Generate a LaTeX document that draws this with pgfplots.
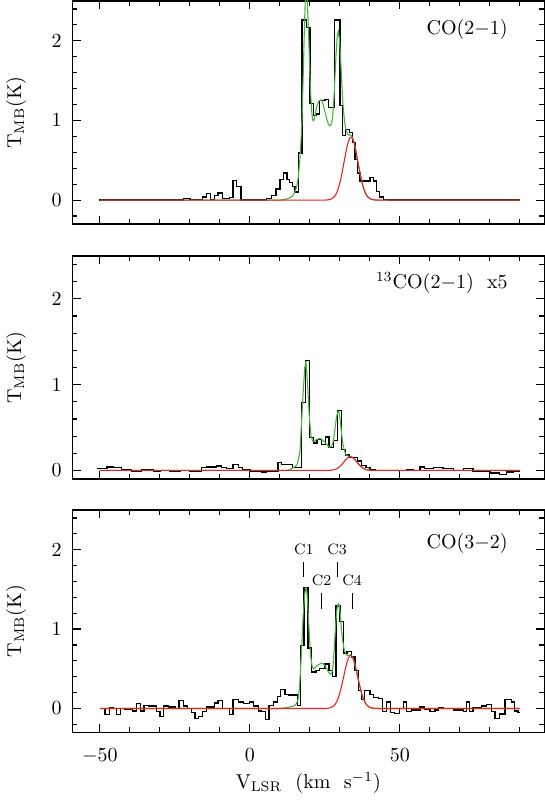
\documentclass[border=0pt]{standalone}
\usepackage{pgfplots}
\pgfplotsset{compat=1.18}
\definecolor{fitgreen}{RGB}{70,180,60}
\definecolor{fitred}{RGB}{235,35,35}
\pgfplotsset{
 spec/.style={
  scale only axis, width=236.1pt, height=111.5pt,
  xmin=-59.2, xmax=98.2,
  xtick={-50,0,50}, minor xtick={-40,-30,-20,-10,10,20,30,40,60,70,80,90},
  ytick={0,1,2}, minor ytick={-0.2,0.2,0.4,0.6,0.8,1.2,1.4,1.6,1.8,2.2,2.4},
  tick align=inside, tick pos=both,
  major tick length=4.2pt, minor tick length=2.5pt,
  every tick/.style={black, line width=0.6pt},
  axis line style={line width=0.8pt},
  yticklabel style={xshift=-1.8pt},
  ylabel={$\mathrm{T_{MB}(K)}$},
  ylabel style={at={(axis description cs:-0.1192,0.5)}, anchor=center},
 },
 hist/.style={black, line width=0.65pt, const plot, no marks},
 gfit/.style={fitgreen, line width=0.55pt, no marks, line join=round},
 rfit/.style={fitred, line width=0.55pt, no marks, line join=round},
}
\begin{document}
\begin{tikzpicture}
% ---------------- top: CO(2-1)
\begin{axis}[spec, at={(36.15pt,-0.5pt)}, anchor=north west,
  ymin=-0.3, ymax=2.5, xticklabels={}]
\addplot[hist] coordinates {(-50.2,0) (-22.2,0.02) (-20.0,0.01) (-15.8,0.04) (-14.4,0.08) (-13.1,0.01) (-11.9,0.06) (-10.6,0.09) (-9.1,0.02) (-6.9,0.03) (-5.6,0.25) (-4.4,0.17) (-3.0,0) (5.6,0.02) (7.2,0.06) (8.7,0.14) (10.0,0.26) (11.1,0.34) (12.4,0.26) (13.3,0.22) (14.2,0.17) (15.0,0.10) (16.1,0.59) (17.4,2.26) (18.9,2.17) (20.0,1.21) (21.1,1.06) (22.0,1.08) (23.3,1.25) (25.0,1.26) (26.1,1.16) (28.3,2.26) (30.0,1.19) (30.9,0.81) (31.9,0.89) (33.3,0.85) (34.2,0.72) (35.0,0.51) (35.8,0.34) (36.7,0.24) (40.0,0.28) (41.1,0.24) (42.2,0.11) (43.3,0.04) (44.6,0.01) (45.9,0) (90,0)};
\addplot[gfit] coordinates {(-50,0) (10,0) (12,0.01) (13.3,0.03) (14.2,0.05) (15.0,0.10) (15.6,0.17) (16.1,0.28) (16.6,0.48) (17.0,0.72) (17.4,1.05) (17.8,1.6) (18.1,2.05) (18.4,2.45) (18.7,2.65) (19.0,2.6) (19.3,2.35) (19.6,2.05) (19.9,1.7) (20.2,1.38) (20.5,1.16) (20.8,1.04) (21.1,0.99) (21.5,1.02) (22.0,1.12) (22.5,1.2) (23.1,1.25) (23.7,1.26) (24.2,1.23) (24.9,1.13) (25.6,1.02) (26.2,0.95) (26.7,0.93) (27.2,0.96) (27.6,1.05) (28.0,1.27) (28.3,1.5) (28.7,1.82) (29.1,2.05) (29.5,2.13) (29.9,2.0) (30.2,1.8) (30.6,1.5) (30.9,1.27) (31.3,1.08) (31.7,0.95) (32.2,0.86) (32.8,0.82) (33.3,0.82) (33.8,0.81) (34.4,0.77) (34.9,0.70) (35.4,0.61) (35.9,0.50) (36.4,0.40) (36.9,0.30) (37.4,0.22) (37.9,0.15) (38.4,0.10) (38.9,0.06) (39.4,0.037) (40.4,0.011) (41.4,0.003) (42.5,0) (90,0)};
\addplot[rfit] coordinates {(-50,0) (25,0) (26,0.003) (27,0.011) (28,0.037) (28.5,0.061) (29,0.098) (29.5,0.149) (30,0.217) (30.5,0.300) (31,0.397) (31.5,0.500) (32,0.601) (32.5,0.690) (33,0.754) (33.4,0.783) (33.7,0.79) (34.0,0.783) (34.4,0.754) (34.9,0.690) (35.4,0.601) (35.9,0.500) (36.4,0.397) (36.9,0.300) (37.4,0.217) (37.9,0.149) (38.4,0.098) (38.9,0.061) (39.4,0.037) (40.4,0.011) (41.4,0.003) (42.5,0) (90,0)};
\node[anchor=base east] at (axis cs:88.3,2.08) {CO(2$-$1)};
\end{axis}
% ---------------- middle: 13CO(2-1) x5
\begin{axis}[spec, at={(36.15pt,-128pt)}, anchor=north west,
  ymin=-0.1, ymax=2.5, xticklabels={}]
\addplot[hist] coordinates {(-50.9,0.02) (-47.6,0.04) (-45.5,0.03) (-42.8,0.01) (-39.4,-0.01) (-36.1,0.01) (-32.2,-0.01) (-30.0,0) (-26.7,-0.01) (-23.3,0) (-20.0,-0.01) (-16.1,0.03) (-14.4,0.04) (-11.1,0.05) (-9.4,0.03) (-7.8,0.02) (-5.6,0.07) (-3.9,0.03) (-2.4,0.01) (0,-0.01) (3.9,-0.02) (5.6,-0.01) (9.4,0.09) (10.6,0.07) (12.2,0.07) (14.1,0.03) (15.8,0.03) (17.2,0.79) (18.5,1.28) (19.8,0.38) (21.1,0.32) (22.4,0.36) (23.9,0.30) (25.2,0.39) (26.4,0.27) (27.8,0.35) (29.2,0.70) (30.6,0.24) (31.8,0.18) (33.1,0.15) (35.9,0.11) (37.2,0.06) (38.7,0.03) (40.0,0.01) (41.7,0) (48.3,0) (52.2,0.01) (54.4,0) (56.7,0.04) (58.3,0.02) (61.1,0.03) (64.4,0.02) (67.8,0) (71.1,0.02) (74.4,-0.01) (80.0,-0.03) (83.3,-0.05) (85.6,-0.02) (87.8,-0.01) (90.0,-0.01)};
\addplot[gfit] coordinates {(-50,0) (12,0) (13,0.005) (14.4,0.03) (15.6,0.06) (16.2,0.13) (16.7,0.23) (17.2,0.55) (17.8,0.94) (18.3,1.2) (18.7,1.27) (19.2,1.02) (19.5,0.82) (19.8,0.63) (20.3,0.42) (20.9,0.34) (21.5,0.34) (22.2,0.36) (23.0,0.37) (23.6,0.37) (24.3,0.35) (25.0,0.33) (25.7,0.30) (26.4,0.27) (27.2,0.28) (27.7,0.33) (28.1,0.41) (28.5,0.52) (28.9,0.63) (29.3,0.68) (29.6,0.69) (29.9,0.64) (30.2,0.55) (30.6,0.42) (30.9,0.33) (31.3,0.26) (31.7,0.21) (32.2,0.18) (32.8,0.165) (33.5,0.162) (34,0.157) (35,0.128) (36,0.085) (37,0.046) (38,0.02) (39,0.007) (40,0.002) (41,0) (90,0)};
\addplot[rfit] coordinates {(-50,0) (26,0) (27,0.002) (28,0.007) (29,0.020) (30,0.045) (31,0.084) (32,0.127) (33,0.156) (33.5,0.16) (34,0.156) (35,0.127) (36,0.084) (37,0.045) (38,0.020) (39,0.007) (40,0.002) (41,0) (90,0)};
\node[anchor=base east] at (axis cs:88.3,2.12) {$^{13}$CO(2$-$1)~~x5};
\end{axis}
% ---------------- bottom: CO(3-2)
\begin{axis}[spec, at={(36.15pt,-255pt)}, anchor=north west,
  height=111.15pt, ymin=-0.3, ymax=2.5,
  xticklabel style={yshift=-4.5pt},
  xlabel={$\mathrm{V_{LSR}}$~~(km~~s$^{-1}$)},
  xlabel style={at={(axis description cs:0.5,-0.2519)}, anchor=base}]
\addplot[hist] coordinates {(-49.1,0) (-48.3,-0.08) (-46.9,0.01) (-45.6,0) (-44.4,-0.08) (-43.1,0) (-41.7,-0.01) (-39.1,-0.03) (-37.8,0.06) (-36.4,-0.03) (-35.3,0.04) (-33.9,0.03) (-31.1,-0.04) (-30.0,-0.1) (-28.7,0.03) (-27.2,0.02) (-25.0,0) (-23.6,0.1) (-22.2,0.03) (-20.9,0) (-19.4,-0.05) (-18.3,-0.13) (-17.2,-0.1) (-15.8,-0.04) (-14.4,0.02) (-11.7,0.07) (-10.6,0.1) (-9.1,0) (-6.7,-0.08) (-5.6,0.11) (-3.9,0.08) (-2.2,0.06) (-0.2,0.08) (1.1,0.03) (2.8,-0.03) (3.9,-0.04) (5.3,-0.14) (6.4,0.04) (7.8,0.08) (9.1,0.15) (10.2,0.24) (11.7,0.18) (12.8,0.17) (15.8,0.04) (16.9,0.79) (18.0,1.52) (19.4,0.76) (20.6,0.46) (22.0,0.48) (23.3,0.50) (25.0,0.56) (26.4,0.48) (27.6,0.40) (28.7,1.29) (30.0,1.1) (31.1,0.70) (32.4,0.72) (33.9,0.65) (35.0,0.48) (36.1,0.23) (37.2,0.11) (38.3,0.23) (40.0,0.18) (41.3,0.14) (42.8,0.13) (44.2,-0.04) (45.6,0.08) (46.9,-0.05) (48.3,-0.06) (49.8,0) (51.1,0.08) (52.2,-0.04) (53.9,-0.02) (56.7,0.02) (58.3,-0.01) (60.0,-0.04) (61.7,-0.02) (62.8,0.01) (64.4,0) (67.8,-0.02) (71.1,-0.04) (72.2,0.08) (73.1,-0.04) (74.4,0.01) (77.2,0.03) (78.9,0.05) (80.6,-0.04) (81.7,-0.13) (83.3,-0.07) (85.0,0.11) (87.2,0.08) (88.3,-0.03) (89.4,-0.05) (90.0,-0.05)};
\addplot[gfit] coordinates {(-50,0) (10,0) (12,0.01) (13.3,0.02) (14.5,0.03) (15.3,0.05) (16.0,0.10) (16.5,0.25) (16.9,0.5) (17.3,0.8) (17.8,1.2) (18.3,1.45) (18.7,1.52) (19.0,1.47) (19.3,1.3) (19.6,1.08) (19.9,0.86) (20.3,0.65) (20.7,0.54) (21.1,0.50) (21.7,0.51) (22.4,0.54) (23.2,0.56) (24.0,0.57) (24.8,0.55) (25.6,0.50) (26.3,0.45) (26.9,0.43) (27.4,0.46) (27.8,0.57) (28.2,0.8) (28.6,1.06) (29.0,1.25) (29.4,1.32) (29.7,1.31) (30.1,1.2) (30.5,1.0) (30.9,0.86) (31.4,0.75) (31.9,0.69) (32.4,0.67) (32.9,0.67) (33.3,0.67) (33.6,0.67) (33.9,0.663) (34.3,0.64) (34.8,0.585) (35.3,0.51) (35.8,0.424) (36.3,0.336) (36.8,0.255) (37.3,0.184) (37.8,0.127) (38.3,0.083) (38.8,0.052) (39.3,0.031) (40.3,0.0096) (41.3,0.0025) (42.5,0) (90,0)};
\addplot[rfit] coordinates {(-50,0) (25,0) (25.9,0.0025) (26.9,0.0096) (27.9,0.031) (28.4,0.052) (28.9,0.083) (29.4,0.127) (29.9,0.184) (30.4,0.255) (30.9,0.336) (31.4,0.424) (31.9,0.51) (32.4,0.585) (32.9,0.64) (33.3,0.663) (33.6,0.67) (33.9,0.663) (34.3,0.64) (34.8,0.585) (35.3,0.51) (35.8,0.424) (36.3,0.336) (36.8,0.255) (37.3,0.184) (37.8,0.127) (38.3,0.083) (38.8,0.052) (39.3,0.031) (40.3,0.0096) (41.3,0.0025) (42.5,0) (90,0)};
\node[anchor=base east] at (axis cs:88.3,2.01) {CO(3$-$2)};
\begin{scope}[every node/.style={anchor=base, font=\fontsize{7.5}{9}\selectfont, inner sep=0pt}]
\node at (axis cs:18.0,1.94) {C1};
\node at (axis cs:23.9,1.545) {C2};
\node at (axis cs:29.1,1.94) {C3};
\node at (axis cs:34.1,1.545) {C4};
\end{scope}
\draw[line width=0.5pt] (axis cs:18.0,1.84) -- (axis cs:18.0,1.655);
\draw[line width=0.5pt] (axis cs:23.9,1.453) -- (axis cs:23.9,1.25);
\draw[line width=0.5pt] (axis cs:29.1,1.84) -- (axis cs:29.1,1.655);
\draw[line width=0.5pt] (axis cs:34.1,1.453) -- (axis cs:34.1,1.25);
\end{axis}
\pgfresetboundingbox
\useasboundingbox (0,0) rectangle (272.5pt,-401pt);
\end{tikzpicture}
\end{document}
